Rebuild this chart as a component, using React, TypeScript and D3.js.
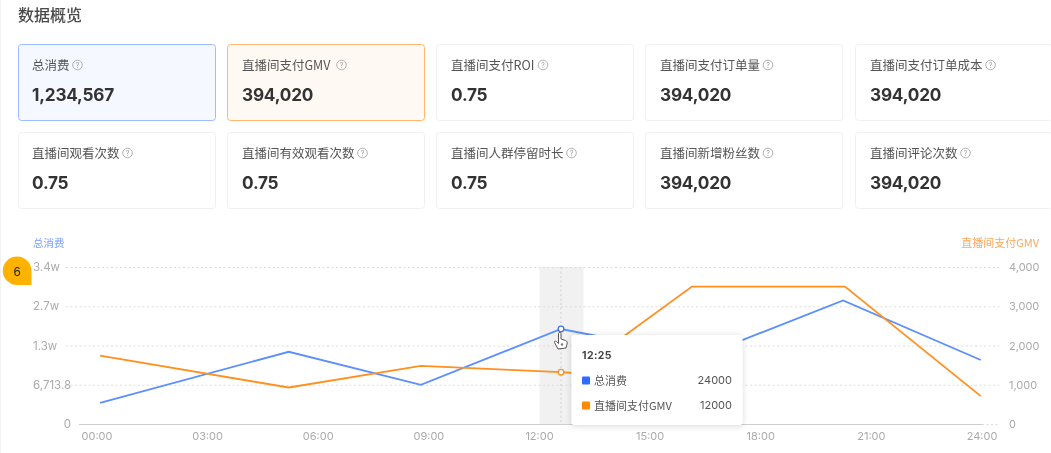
import React from "react";
import * as d3 from "d3";

const cardTitles = ["总消费","直播间支付GMV","直播间支付ROI","直播间支付订单量","直播间支付订单成本","直播间观看次数","直播间有效观看次数","直播间人群停留时长","直播间新增粉丝数","直播间评论次数"];
const cardValues = ["1,234,567","394,020","0.75","394,020","394,020","0.75","0.75","0.75","394,020","394,020"];
const xTickLabels = ["00:00","03:00","06:00","09:00","12:00","15:00","18:00","21:00","24:00"];
const leftTickLabels = ["0","6,713.8","1.3w","2.7w","3.4w"];
const rightTicks = [0,1000,2000,3000,4000];
const spendMinutes = [5,312,527,755,984,1214,1438];
const spendValues = [540,1840,1000,2420,1730,3150,1630];
const gmvMinutes = [5,312,527,755,775,968,1217,1438];
const gmvValues = [1740,930,1480,1320,1300,3500,3500,710];
const tooltipTime = "12:25";
const tooltipRows = [{name:"总消费",value:"24000",color:"#2f6bff"},{name:"直播间支付GMV",value:"12000",color:"#ff8a00"}];
const FONT = "'Noto Sans CJK SC','Noto Sans',sans-serif";
const LATIN = "Inter,'Noto Sans CJK SC',sans-serif";

const x = d3.scaleLinear().domain([0,1440]).range([97,982]);
const y = d3.scaleLinear().domain([0,4000]).range([424,267]);
const line = d3.line<[number,number]>().x(d=>x(d[0])).y(d=>y(d[1]));
const spendPts = spendMinutes.map((m,i)=>[m,spendValues[i]] as [number,number]);
const gmvPts = gmvMinutes.map((m,i)=>[m,gmvValues[i]] as [number,number]);
const hoverIdx = 3;

const cardX = [18,227,436,645,855];
const cardY = [44,132];
const CW = 198, CH = 77;
const latinWidths: Record<string,number> = {G:9.5,M:11,V:8.5,R:8.5,O:9.5,I:3.5};

function Help({cx,cy}:{cx:number,cy:number}){
  return <g>
    <circle cx={cx} cy={cy} r={4.8} fill="none" stroke="#a8a8a8" strokeWidth={0.9}/>
    <text x={cx} y={cy+2.6} fontSize={7} textAnchor="middle" fill="#a0a0a0" fontFamily={LATIN}>?</text>
  </g>;
}

function titleWidth(t:string){
  let w=0; for(const c of t){ w += latinWidths[c] ?? 12.5; } return w;
}

export default function App(){
  return <svg width={1051} height={453} style={{position:"fixed",left:0,top:0,filter:"blur(0.45px)"}} xmlns="http://www.w3.org/2000/svg">
    <defs>
      <filter id="ttShadow" x="-15%" y="-20%" width="130%" height="140%">
        <feDropShadow dx="0" dy="1" stdDeviation="3" floodColor="#000" floodOpacity="0.16"/>
      </filter>
    </defs>
    <rect width={1051} height={453} fill="#fff"/>
    <line x1={0.5} x2={0.5} y1={0} y2={453} stroke="#f2f2f2"/>
    <text x={18} y={21} fontSize={16} fontWeight={500} fill="#4a4a4a" fontFamily={FONT}>数据概览</text>

    {cardTitles.map((t,i)=>{
      const cx=cardX[i%5], cy=cardY[Math.floor(i/5)];
      const stroke = i===0?"#9dbcff":i===1?"#ffb874":"#f0f0f0";
      const fill = i===0?"#f5f8ff":i===1?"#fff9f3":"#fff";
      const tx = cx+(i%5===0?14:15);
      return <g key={t}>
        <rect x={cx+0.5} y={cy+0.5} width={CW-1} height={CH-1} rx={3} fill={fill} stroke={stroke} strokeWidth={1}/>
        <text x={tx} y={cy+25.5} fontSize={12.5} fill="#555" fontFamily={FONT}>{t}</text>
        <Help cx={tx+titleWidth(t)+8} cy={cy+21}/>
        <text x={tx} y={cy+56.5} fontSize={17.2} fontWeight={700} letterSpacing={-0.2} fill="#333" fontFamily={LATIN}>{cardValues[i]}</text>
      </g>;
    })}

    <text x={33} y={247} fontSize={10.5} fill="#7aa3ff" fontFamily={FONT}>总消费</text>
    <text x={1039} y={247} fontSize={11} fill="#ffa755" textAnchor="end" fontFamily={FONT}>直播间支付GMV</text>

    <rect x={539.5} y={267} width={44} height={157} fill="#f1f1f1"/>

    {rightTicks.map((t,i)=>{
      const py=y(t);
      return <g key={t}>
        {i>0 && <line x1={66} x2={1000} y1={py+0.5} y2={py+0.5} stroke="#dcdcdc" strokeDasharray="2 2.5"/>}
        <text x={33} y={py+4} fontSize={11.5} fill="#aaa" fontFamily={LATIN} textAnchor={i===0?"end":"start"} dx={i===0?38:0}>{leftTickLabels[i]}</text>
        <text x={1009} y={py+4} fontSize={11} fill="#aaa" fontFamily={LATIN}>{i===0?"0":d3.format(",")(t)}</text>
      </g>;
    })}
    <line x1={79} x2={982} y1={424.5} y2={424.5} stroke="#cfcfcf"/>
    <line x1={982} x2={1000} y1={424.5} y2={424.5} stroke="#dcdcdc" strokeDasharray="2 2.5"/>
    {xTickLabels.map((l,i)=><text key={l} x={x(i*180)} y={440} fontSize={11} fill="#aaa" textAnchor="middle" fontFamily={LATIN}>{l}</text>)}

    <line x1={x(spendMinutes[hoverIdx])} x2={x(spendMinutes[hoverIdx])} y1={267} y2={424} stroke="#cfcfcf" strokeDasharray="2 2.5"/>

    <path d={line(spendPts)!} fill="none" stroke="#5b8ff9" strokeWidth={1.8}/>
    <path d={line(gmvPts)!} fill="none" stroke="#ff9020" strokeWidth={1.8}/>
    <circle cx={x(spendMinutes[hoverIdx])} cy={y(spendValues[hoverIdx])} r={2.8} fill="#fff" stroke="#3f72ef" strokeWidth={1.3}/>
    <circle cx={x(gmvMinutes[hoverIdx])} cy={y(gmvValues[hoverIdx])} r={2.8} fill="#fff" stroke="#ff9020" strokeWidth={1.3}/>

    <rect x={571.5} y={335} width={171} height={90} rx={3} fill="#fff" filter="url(#ttShadow)"/>
    <text x={582} y={358.5} fontSize={10.5} fontWeight={700} fill="#444" fontFamily={LATIN} letterSpacing={0.4}>{tooltipTime}</text>
    {tooltipRows.map((r,i)=>{
      const py=380.5+25*i;
      return <g key={r.name}>
        <rect x={582} y={py-4} width={8} height={8} rx={1} fill={r.color}/>
        <text x={594} y={py+4} fontSize={11} fill="#555" fontFamily={FONT}>{r.name}</text>
        <text x={732} y={py+3.8} fontSize={11} fill="#555" textAnchor="end" fontFamily={LATIN}>{r.value}</text>
      </g>;
    })}

    <g stroke="#555" strokeWidth={1} fill="#fff" strokeLinejoin="round">
      <path d="M558.5 333.5 C558.5 332 561 332 561 333.5 L561 339 L565.5 340.5 C567 341 567.5 342 567 344 L566 348 L558 349 L554.5 342.5 C554 341 556 340.5 557 342 L558.5 343.5 Z"/>
    </g>
    <circle cx={562} cy={344.5} r={1.2} fill="#777"/>

    <path d="M17 256.5 A14.5 14.5 0 0 1 31.5 271 L31.5 285 L17 285 A14.2 14.2 0 0 1 17 256.5 Z" fill="#ffb300"/>
    <text x={17} y={275.5} fontSize={13} fontFamily="'Liberation Sans',sans-serif" fill="#222" textAnchor="middle">6</text>
  </svg>;
}
